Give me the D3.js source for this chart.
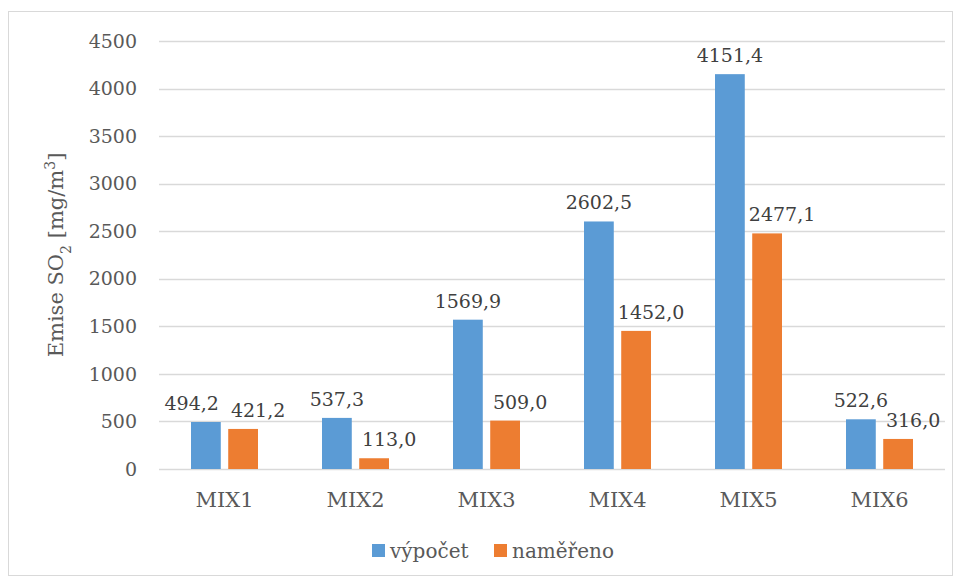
<!DOCTYPE html>
<html>
<head>
<meta charset="utf-8">
<script src="https://cdn.jsdelivr.net/npm/d3@7"></script>
<style>
  body { margin: 0; background: #fff; }
  text { font-family: Georgia, "DejaVu Serif", "Liberation Serif", serif; fill: #595959; }
</style>
</head>
<body>
<svg id="chart" width="961" height="581"></svg>
<script>
// data
const categories = ["MIX1", "MIX2", "MIX3", "MIX4", "MIX5", "MIX6"];
const vypocet = [494.2, 537.3, 1569.9, 2602.5, 4151.4, 522.6];
const namereno = [421.2, 113.0, 509.0, 1452.0, 2477.1, 316.0];
const seriesNames = ["výpočet", "naměřeno"];
const yTicks = [0, 500, 1000, 1500, 2000, 2500, 3000, 3500, 4000, 4500];

const colors = { "výpočet": "#5b9bd5", "naměřeno": "#ed7d31" };

const svg = d3.select("#chart");

// outer border
svg.append("rect").attr("x", 8.5).attr("y", 11.5).attr("width", 944).attr("height", 564)
  .attr("fill", "#fff").attr("stroke", "#d9d9d9");

const plotL = 159, plotR = 945, plotT = 41, plotB = 469;

const y = d3.scaleLinear().domain([0, 4500]).range([plotB, plotT]);
const x0 = d3.scaleBand().domain(categories).range([plotL, plotR]);
const x1 = d3.scaleBand().domain(seriesNames).range([32, 99]).paddingInner(0.2);

// gridlines
svg.append("g").selectAll("line").data(yTicks).join("line")
  .attr("x1", plotL).attr("x2", plotR)
  .attr("y1", d => Math.round(y(d)) + 0.5).attr("y2", d => Math.round(y(d)) + 0.5)
  .attr("stroke", "#d9d9d9").attr("stroke-width", 1.3);

// y tick labels
svg.append("g").selectAll("text").data(yTicks).join("text")
  .attr("x", 137).attr("y", d => y(d)).attr("dy", "0.35em")
  .attr("text-anchor", "end").attr("font-size", 19)
  .text(d => d);

// bars
const rows = categories.map((c, i) => ({ cat: c, values: [
  { key: "výpočet", v: vypocet[i] }, { key: "naměřeno", v: namereno[i] }] }));

const groups = svg.append("g").selectAll("g").data(rows).join("g")
  .attr("transform", d => `translate(${x0(d.cat)},0)`);

groups.selectAll("rect").data(d => d.values).join("rect")
  .attr("x", d => x1(d.key)).attr("width", x1.bandwidth())
  .attr("y", d => y(d.v)).attr("height", d => plotB - y(d.v))
  .attr("fill", d => colors[d.key]);

// data labels: orange labels sit a bit right of their bar, blue ones move left if they collide
const labelSize = 19;
groups.each(function(d) {
  const g = d3.select(this);
  const lbls = d.values.map((v, j) => {
    const cx = x1(v.key) + x1.bandwidth() / 2 + (j === 1 ? 15 : 0);
    const t = g.append("text")
      .attr("x", cx).attr("y", y(v.v) - 12)
      .attr("text-anchor", "middle").attr("font-size", labelSize)
      .style("fill", "#404040")
      .text(d3.format(".1f")(v.v).replace(".", ","));
    return { t, cx, w: t.node().getComputedTextLength(), base: y(v.v) - 12 };
  });
  const [b, o] = lbls;
  const vOverlap = Math.abs(b.base - o.base) < 15;
  const bRight = b.cx + b.w / 2, oLeft = o.cx - o.w / 2;
  if (vOverlap && bRight > oLeft - 10) {
    b.t.attr("x", oLeft - 12 - b.w / 2);
  }
});

// x labels
svg.append("g").selectAll("text").data(categories).join("text")
  .attr("x", d => x0(d) + x0.bandwidth() / 2).attr("y", 507)
  .attr("text-anchor", "middle").attr("font-size", 21)
  .text(d => d);

// y axis title
svg.append("text")
  .attr("transform", "translate(63,255) rotate(-90)")
  .attr("text-anchor", "middle").attr("font-size", 21)
  .html('Emise SO<tspan baseline-shift="sub" font-size="14">2</tspan> [mg/m<tspan baseline-shift="super" font-size="14">3</tspan>]');

// legend
const legend = svg.append("g").attr("transform", "translate(372,550.5)");
const lx = [0, 122];
seriesNames.forEach((s, i) => {
  legend.append("rect").attr("x", lx[i]).attr("y", -6.5).attr("width", 13).attr("height", 13).attr("fill", colors[s]);
  legend.append("text").attr("x", lx[i] + 18).attr("y", 0).attr("dy", "0.35em")
    .attr("font-size", 20).text(s);
});
</script>
</body>
</html>
